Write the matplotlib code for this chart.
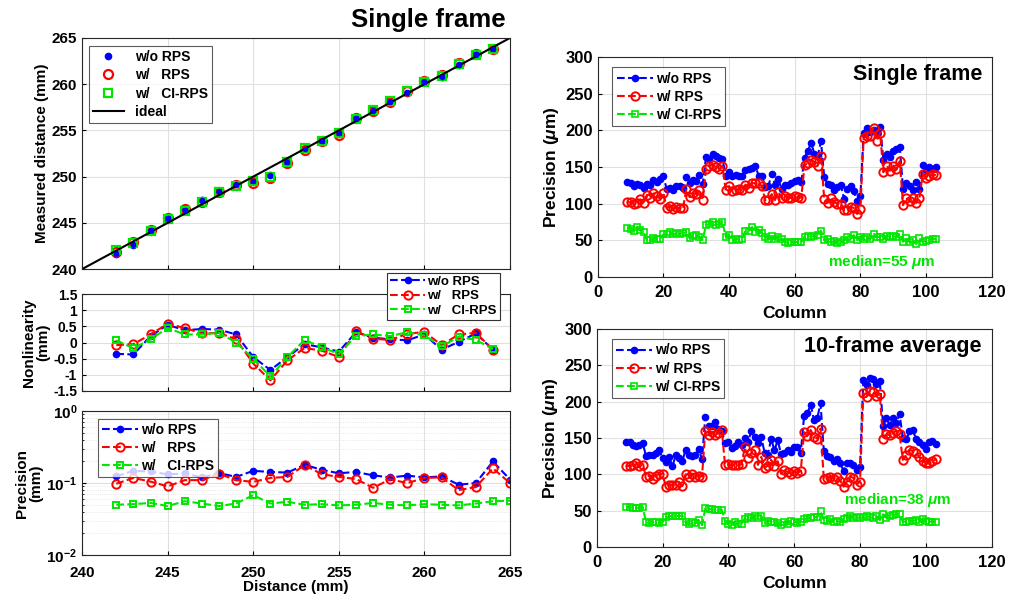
import matplotlib
matplotlib.use("Agg")
import matplotlib.pyplot as plt
from matplotlib.ticker import LogLocator, NullFormatter, FixedLocator

plt.rcParams['font.family'] = ['Liberation Sans', 'DejaVu Sans']
plt.rcParams['font.weight'] = 'bold'
plt.rcParams['axes.labelweight'] = 'bold'
plt.rcParams['mathtext.fontset'] = 'custom'
plt.rcParams['mathtext.rm'] = 'Liberation Sans:bold'
plt.rcParams['mathtext.it'] = 'Liberation Sans:italic:bold'

# ---------------- Left panels data ----------------
distance = [242, 243, 244, 245, 246, 247, 248, 249, 250, 251, 252, 253,
            254, 255, 256, 257, 258, 259, 260, 261, 262, 263, 264]
meas_wo = [241.65, 242.63, 244.2, 245.55, 246.38, 247.42, 248.40, 249.25, 249.55, 250.2,
           251.55, 252.95, 253.85, 254.72, 256.32, 257.15, 258.10, 259.07, 260.25, 260.78,
           262.02, 263.28, 263.78]
meas_w = [241.8, 242.9, 244.2, 245.55, 246.45, 247.3, 248.3, 249.05, 249.35, 249.85,
          251.45, 252.85, 253.8, 254.55, 256.35, 257.1, 258.1, 259.25, 260.3, 260.95,
          262.25, 263.3, 263.8]
meas_ci = [242.05, 242.8, 244.1, 245.45, 246.25, 247.25, 248.3, 249.0, 249.5, 250.0,
           251.55, 253.08, 253.85, 254.7, 256.2, 257.25, 258.2, 259.3, 260.22, 260.9,
           262.18, 263.1, 263.8]
ideal_x = [240, 265]
ideal_y = [240, 265]

nl_wo = [-0.35, -0.37, 0.2, 0.55, 0.38, 0.42, 0.40, 0.25, -0.45, -0.85, -0.45, -0.05,
         -0.15, -0.28, 0.32, 0.15, 0.10, 0.07, 0.25, -0.22, 0.02, 0.28, -0.22]
nl_w = [-0.08, -0.05, 0.25, 0.58, 0.45, 0.28, 0.3, 0.1, -0.65, -1.17, -0.55, -0.17,
        -0.25, -0.45, 0.35, 0.12, 0.08, 0.27, 0.33, -0.08, 0.25, 0.3, -0.22]
nl_ci = [0.07, -0.18, 0.1, 0.45, 0.25, 0.25, 0.3, 0.0, -0.5, -1.05, -0.45, 0.08,
         -0.15, -0.35, 0.2, 0.25, 0.2, 0.32, 0.22, -0.12, 0.18, 0.08, -0.2]

prec_dist = [242, 243, 244, 245, 246, 247, 248, 249, 250, 251, 252, 253,
             254, 255, 256, 257, 258, 259, 260, 261, 262, 263, 264, 265]
prec_wo = [0.125, 0.148, 0.145, 0.132, 0.137, 0.12, 0.138, 0.122, 0.148, 0.143, 0.14, 0.18,
           0.153, 0.137, 0.143, 0.128, 0.12, 0.127, 0.12, 0.124, 0.095, 0.1, 0.2, 0.112]
prec_w = [0.098, 0.118, 0.105, 0.09, 0.11, 0.11, 0.135, 0.11, 0.104, 0.118, 0.122, 0.178,
          0.133, 0.122, 0.114, 0.086, 0.113, 0.1, 0.118, 0.12, 0.08, 0.088, 0.16, 0.1]
prec_ci = [0.05, 0.051, 0.053, 0.048, 0.056, 0.052, 0.048, 0.052, 0.068, 0.052, 0.055, 0.05,
           0.051, 0.049, 0.05, 0.053, 0.05, 0.049, 0.051, 0.05, 0.049, 0.052, 0.056, 0.057]

# ---------------- Right panels data ----------------
columns = list(range(9, 104))
sf_wo = [130, 128, 124, 127, 125, 121, 127, 126, 133, 130, 134, 138, 120, 122, 118, 124,
         124, 122, 136, 128, 133, 131, 139, 127, 164, 161, 168, 165, 162, 161, 138, 143,
         138, 139, 138, 138, 146, 147, 149, 152, 138, 138, 123, 124, 141, 126, 134, 120,
         125, 126, 128, 131, 133, 130, 163, 172, 183, 168, 165, 185, 136, 127, 125, 118,
         123, 126, 107, 120, 124, 117, 104, 110, 197, 204, 198, 200, 196, 205, 160, 168,
         164, 172, 174, 177, 120, 128, 124, 118, 130, 120, 153, 146, 150, 148, 150]
sf_w = [102, 102, 100, 101, 106, 101, 112, 108, 114, 110, 107, 115, 94, 97, 93, 95,
        94, 94, 120, 109, 115, 113, 119, 105, 148, 152, 153, 150, 147, 151, 118, 124,
        117, 119, 120, 118, 126, 121, 128, 128, 128, 124, 105, 105, 113, 105, 116, 108,
        111, 108, 108, 110, 109, 108, 153, 155, 160, 157, 152, 165, 106, 101, 108, 102,
        100, 99, 91, 92, 96, 94, 86, 93, 190, 192, 193, 204, 186, 197, 143, 152,
        145, 152, 147, 158, 98, 108, 103, 108, 101, 108, 141, 135, 138, 140, 139]
sf_ci = [67, 66, 63, 68, 64, 62, 50, 50, 53, 52, 52, 58, 58, 61, 58, 60,
         59, 60, 61, 53, 56, 57, 54, 51, 71, 72, 75, 71, 72, 75, 55, 57,
         50, 52, 51, 52, 63, 63, 68, 62, 64, 60, 55, 52, 56, 52, 55, 52,
         48, 46, 48, 47, 48, 47, 55, 56, 55, 56, 57, 63, 50, 52, 47, 49,
         46, 47, 50, 54, 52, 57, 51, 55, 52, 54, 52, 58, 54, 55, 52, 56,
         55, 56, 54, 59, 48, 53, 47, 50, 45, 53, 48, 49, 51, 52, 52]

av_wo = [145, 144, 140, 139, 140, 143, 125, 126, 127, 130, 133, 122, 117, 124, 111, 126,
         122, 118, 133, 126, 125, 126, 135, 121, 179, 167, 166, 172, 162, 160, 143, 145,
         136, 139, 145, 141, 150, 145, 160, 151, 143, 151, 130, 127, 149, 133, 147, 128,
         130, 134, 131, 137, 137, 130, 180, 184, 196, 175, 177, 198, 132, 125, 124, 119,
         121, 115, 105, 115, 115, 113, 106, 110, 230, 223, 232, 231, 225, 228, 167, 177,
         168, 177, 170, 183, 150, 148, 159, 161, 149, 145, 141, 135, 144, 146, 142]
av_w = [112, 111, 113, 116, 111, 113, 97, 98, 94, 98, 101, 101, 83, 86, 86, 86,
        89, 84, 100, 97, 101, 97, 98, 97, 160, 154, 158, 154, 157, 161, 113, 114,
        113, 113, 113, 114, 137, 122, 130, 134, 113, 124, 109, 112, 120, 111, 118, 101,
        106, 103, 101, 104, 102, 105, 158, 153, 161, 152, 149, 163, 94, 95, 97, 94,
        96, 91, 83, 90, 97, 95, 86, 90, 212, 207, 215, 214, 208, 210, 148, 155,
        154, 157, 160, 155, 120, 126, 134, 132, 130, 124, 118, 116, 116, 118, 121]
av_ci = [55, 55, 54, 53, 54, 55, 34, 33, 34, 34, 33, 34, 41, 42, 43, 42,
         43, 43, 34, 32, 35, 33, 37, 30, 53, 52, 52, 51, 51, 51, 36, 32,
         30, 34, 31, 32, 39, 41, 40, 42, 40, 43, 33, 36, 35, 34, 33, 30,
         35, 32, 36, 35, 33, 35, 38, 40, 40, 41, 41, 49, 37, 36, 38, 35,
         36, 34, 38, 40, 42, 40, 41, 40, 41, 43, 41, 40, 43, 37, 45, 40,
         43, 44, 45, 45, 35, 35, 36, 36, 37, 35, 38, 36, 35, 35, 35]

labels_left = ['w/o RPS', 'w/   RPS', 'w/   CI-RPS']
labels_right = ['w/o RPS', 'w/ RPS', 'w/ CI-RPS']

BLUE = '#0000FF'
RED = '#FF0000'
GREEN = '#00E600'
GRID = dict(color='#e0e0e0', linewidth=0.8)

fig = plt.figure(figsize=(10.13, 6.02), dpi=100)

def style(ax, fs=10, xpad=4):
    ax.tick_params(direction='in', labelsize=fs, length=3, width=0.8)
    ax.tick_params(axis='x', pad=xpad)
    for s in ax.spines.values():
        s.set_linewidth(0.8)
        s.set_color('#262626')
    ax.set_axisbelow(True)

# ---- top-left
ax1 = fig.add_axes([0.081, 0.553, 0.4225, 0.384])
ax1.plot(distance, meas_wo, 'o', color=BLUE, ms=4.5, label=labels_left[0])
ax1.plot(distance, meas_w, 'o', color=RED, mfc='none', mew=1.6, ms=6.5, label=labels_left[1])
ax1.plot(distance, meas_ci, 's', color=GREEN, mfc='none', mew=1.6, ms=5.5, label=labels_left[2])
ax1.plot(ideal_x, ideal_y, '-', color='black', lw=1.5, label='ideal')
ax1.plot(distance, meas_wo, 'o', color=BLUE, ms=3)
ax1.set_xlim(240, 265)
ax1.set_ylim(240, 265)
ax1.set_xticks([240, 245, 250, 255, 260, 265])
ax1.set_xticklabels([])
ax1.set_yticks([240, 245, 250, 255, 260, 265])
ax1.grid(True, **GRID)
ax1.set_ylabel('Measured distance (mm)', fontsize=11, labelpad=2)
style(ax1, 11)
leg = ax1.legend(loc='upper left', fontsize=10, frameon=True, fancybox=False,
                 edgecolor='#333333', handlelength=2.2, borderpad=0.3, labelspacing=0.3,
                 bbox_to_anchor=(0.0, 0.995))
leg.get_frame().set_linewidth(0.8)
fig.text(0.499, 0.966, 'Single frame', ha='right', va='center', fontsize=18.5, fontweight='bold')

# ---- middle-left
ax2 = fig.add_axes([0.081, 0.3505, 0.4225, 0.161])
ax2.plot(distance, nl_wo, '--o', color=BLUE, ms=4.5, lw=1.5, label='w/o RPS')
ax2.plot(distance, nl_w, '--o', color=RED, mfc='none', mew=1.4, ms=6, lw=1.5, label='w/   RPS')
ax2.plot(distance, nl_ci, '--s', color=GREEN, mfc='none', mew=1.4, ms=5, lw=1.5, label='w/   CI-RPS')
ax2.set_xlim(240, 265)
ax2.set_ylim(-1.5, 1.5)
ax2.set_xticks([240, 245, 250, 255, 260, 265])
ax2.set_xticklabels([])
ax2.set_yticks([-1.5, -1, -0.5, 0, 0.5, 1, 1.5])
ax2.set_yticklabels(['-1.5', '-1', '-0.5', '0', '0.5', '1', '1.5'])
ax2.grid(True, **GRID)
ax2.set_ylabel('Nonlinearity\n(mm)', fontsize=11, labelpad=2, linespacing=1.0)
style(ax2, 10)
leg = ax2.legend(loc='upper right', bbox_to_anchor=(0.992, 1.29), fontsize=9.5, frameon=True,
                 fancybox=False, edgecolor='#333333', handlelength=2.6, borderpad=0.25,
                 labelspacing=0.15, handletextpad=0.2, framealpha=1)
leg.get_frame().set_linewidth(0.8)

# ---- bottom-left
ax3 = fig.add_axes([0.081, 0.078, 0.4225, 0.239])
ax3.semilogy(prec_dist, prec_wo, '--o', color=BLUE, ms=4.5, lw=1.5, label='w/o RPS')
ax3.semilogy(prec_dist, prec_w, '--o', color=RED, mfc='none', mew=1.4, ms=6, lw=1.5, label='w/   RPS')
ax3.semilogy(prec_dist, prec_ci, '--s', color=GREEN, mfc='none', mew=1.4, ms=5, lw=1.5, label='w/   CI-RPS')
ax3.set_xlim(240, 265)
ax3.set_ylim(0.01, 1)
ax3.set_xticks([240, 245, 250, 255, 260, 265])
ax3.yaxis.set_major_locator(FixedLocator([0.01, 0.1, 1]))
ax3.yaxis.set_minor_locator(LogLocator(base=10, subs=range(2, 10)))
ax3.yaxis.set_minor_formatter(NullFormatter())
ax3.grid(True, which='major', **GRID)
ax3.grid(True, which='minor', axis='y', color='#e0e0e0', linewidth=0.6, linestyle=':')
ax3.set_ylabel('Precision\n(mm)', fontsize=11, labelpad=2, linespacing=1.0)
ax3.set_xlabel('Distance (mm)', fontsize=11, labelpad=0)
style(ax3, 11, xpad=8)
ax3.tick_params(which='minor', direction='in', length=1.5)
leg = ax3.legend(loc='upper left', fontsize=10, frameon=True, fancybox=False,
                 edgecolor='#333333', handlelength=2.6, borderpad=0.3, labelspacing=0.3,
                 handletextpad=0.2, bbox_to_anchor=(0.02, 0.995))
leg.get_frame().set_linewidth(0.8)

# ---- right panels
def right_panel(rect, wo, w, ci, title, median_txt, mpos):
    ax = fig.add_axes(rect)
    ax.plot(columns, wo, '--o', color=BLUE, ms=4.5, lw=1.5, label=labels_right[0])
    ax.plot(columns, w, '--o', color=RED, mfc='none', mew=1.4, ms=6, lw=1.5, label=labels_right[1])
    ax.plot(columns, ci, '--s', color=GREEN, mfc='none', mew=1.2, ms=4.5, lw=1.5, label=labels_right[2])
    ax.set_xlim(0, 120)
    ax.set_ylim(0, 300)
    ax.set_xticks(range(0, 121, 20))
    ax.set_yticks(range(0, 301, 50))
    ax.grid(True, **GRID)
    ax.set_xlabel('Column', fontsize=12.5, labelpad=4)
    ax.set_ylabel(r'Precision ($\mu$m)', fontsize=12.5, labelpad=3)
    style(ax, 12, xpad=6)
    lg = ax.legend(loc='upper left', fontsize=10, frameon=True, fancybox=False,
                   edgecolor='#333333', handlelength=2.6, borderpad=0.3, labelspacing=0.3,
                   handletextpad=0.2, bbox_to_anchor=(0.02, 0.985))
    lg.get_frame().set_linewidth(0.8)
    ax.text(0.975, 0.92, title, transform=ax.transAxes, ha='right', va='center',
            fontsize=15.5, fontweight='bold')
    ax.text(mpos[0], mpos[1], median_txt, ha='left', va='center', fontsize=11,
            fontweight='bold', color=GREEN)
    return ax

right_panel([0.590, 0.540, 0.389, 0.365], sf_wo, sf_w, sf_ci, 'Single frame',
            r'median=55 $\mu$m', (70, 20))
right_panel([0.589, 0.0914, 0.390, 0.362], av_wo, av_w, av_ci, '10-frame average',
            r'median=38 $\mu$m', (75, 64))

fig.savefig('out.png', dpi=100)
